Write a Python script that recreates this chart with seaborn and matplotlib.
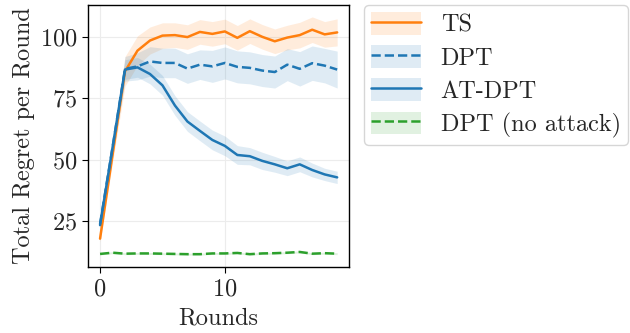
import numpy as np
import pandas as pd
import seaborn as sns
import matplotlib.pyplot as plt
from matplotlib.patches import Patch
from matplotlib.lines import Line2D

rounds = list(range(20))

ts_mean = [18.0, 52.0, 86.0, 94.4, 98.5, 100.5, 100.7, 99.9, 102.0, 101.2,
           102.2, 99.6, 102.3, 100.0, 98.2, 99.7, 100.7, 102.9, 101.0, 101.8]
ts_err = [1.5, 3.0, 6.0, 6.0, 5.5, 5.2, 5.0, 5.0, 5.0, 5.0,
          5.0, 5.0, 5.0, 5.0, 5.0, 5.0, 5.2, 5.2, 5.2, 5.5]

dpt_mean = [24.0, 55.0, 87.0, 88.0, 90.0, 89.4, 89.4, 87.1, 88.7, 88.0,
            89.4, 87.8, 87.4, 86.3, 85.7, 88.7, 87.0, 89.3, 88.3, 86.7]
dpt_err = [1.5, 3.0, 5.0, 5.5, 6.0, 6.0, 6.0, 6.0, 6.0, 6.5,
           6.5, 6.5, 6.5, 6.5, 6.5, 6.5, 7.0, 7.0, 7.0, 7.5]

atdpt_mean = [23.5, 55.0, 86.7, 87.6, 84.9, 80.3, 72.1, 65.6, 61.8, 58.1,
              55.7, 52.0, 51.5, 49.6, 48.2, 46.6, 48.2, 45.9, 44.1, 42.9]
atdpt_err = [1.5, 3.0, 4.0, 4.0, 4.0, 4.0, 4.0, 4.0, 4.0, 4.0,
             4.0, 3.8, 3.5, 3.5, 3.2, 3.0, 3.0, 2.8, 2.5, 2.5]

clean_mean = [11.8, 12.3, 11.9, 12.0, 12.0, 11.9, 11.8, 11.7, 11.7, 12.0,
              12.0, 12.2, 11.7, 12.0, 12.1, 12.3, 12.6, 11.9, 12.1, 11.9]
clean_err = [0.4] * 20

labels = ["TS", "DPT", "AT-DPT", "DPT (no attack)"]
colors = ["#ff7f0e", "#1f77b4", "#1f77b4", "#2ca02c"]
styles = ["-", "--", "-", "--"]

sns.set_style("whitegrid", {"axes.edgecolor": "black", "grid.color": "#ececec",
                            "xtick.bottom": True, "ytick.left": True})
plt.rcParams["font.family"] = ["cmr10", "DejaVu Serif"]
plt.rcParams["axes.formatter.use_mathtext"] = True
plt.rcParams["mathtext.fontset"] = "cm"

fs = 17.5

fig, ax = plt.subplots(figsize=(6.3, 3.33), dpi=100)
fig.subplots_adjust(left=0.14, right=0.554, top=0.985, bottom=0.198)

series = [(ts_mean, ts_err), (dpt_mean, dpt_err), (atdpt_mean, atdpt_err), (clean_mean, clean_err)]
handles = []
for (m, e), lab, c, ls in zip(series, labels, colors, styles):
    df = pd.DataFrame({"Rounds": rounds, "val": m})
    sns.lineplot(data=df, x="Rounds", y="val", color=c, linestyle=ls, linewidth=1.8, ax=ax)
    lo = np.array(m) - np.array(e)
    hi = np.array(m) + np.array(e)
    ax.fill_between(rounds, lo, hi, color=c, alpha=0.14, linewidth=0)
    handles.append((Patch(facecolor=c, alpha=0.14, edgecolor="none"),
                    Line2D([], [], color=c, linestyle=ls, linewidth=1.8)))

for s in ax.spines.values():
    s.set_color("black")
    s.set_linewidth(1.0)
ax.tick_params(axis="both", labelsize=fs, length=4, color="black", pad=4)
ax.set_xticks([0, 10])
ax.set_yticks([25, 50, 75, 100])
ax.set_xlabel("Rounds", fontsize=fs, labelpad=5)
ax.set_ylabel("Total Regret per Round", fontsize=fs, labelpad=3)

ax.legend(handles, labels, loc="upper left", bbox_to_anchor=(1.058, 1.0),
          fontsize=fs, frameon=True, handlelength=2.05, handleheight=1.05,
          labelspacing=0.35, handletextpad=0.8, borderpad=0.3, borderaxespad=0)

fig.savefig("out.png", dpi=100)
